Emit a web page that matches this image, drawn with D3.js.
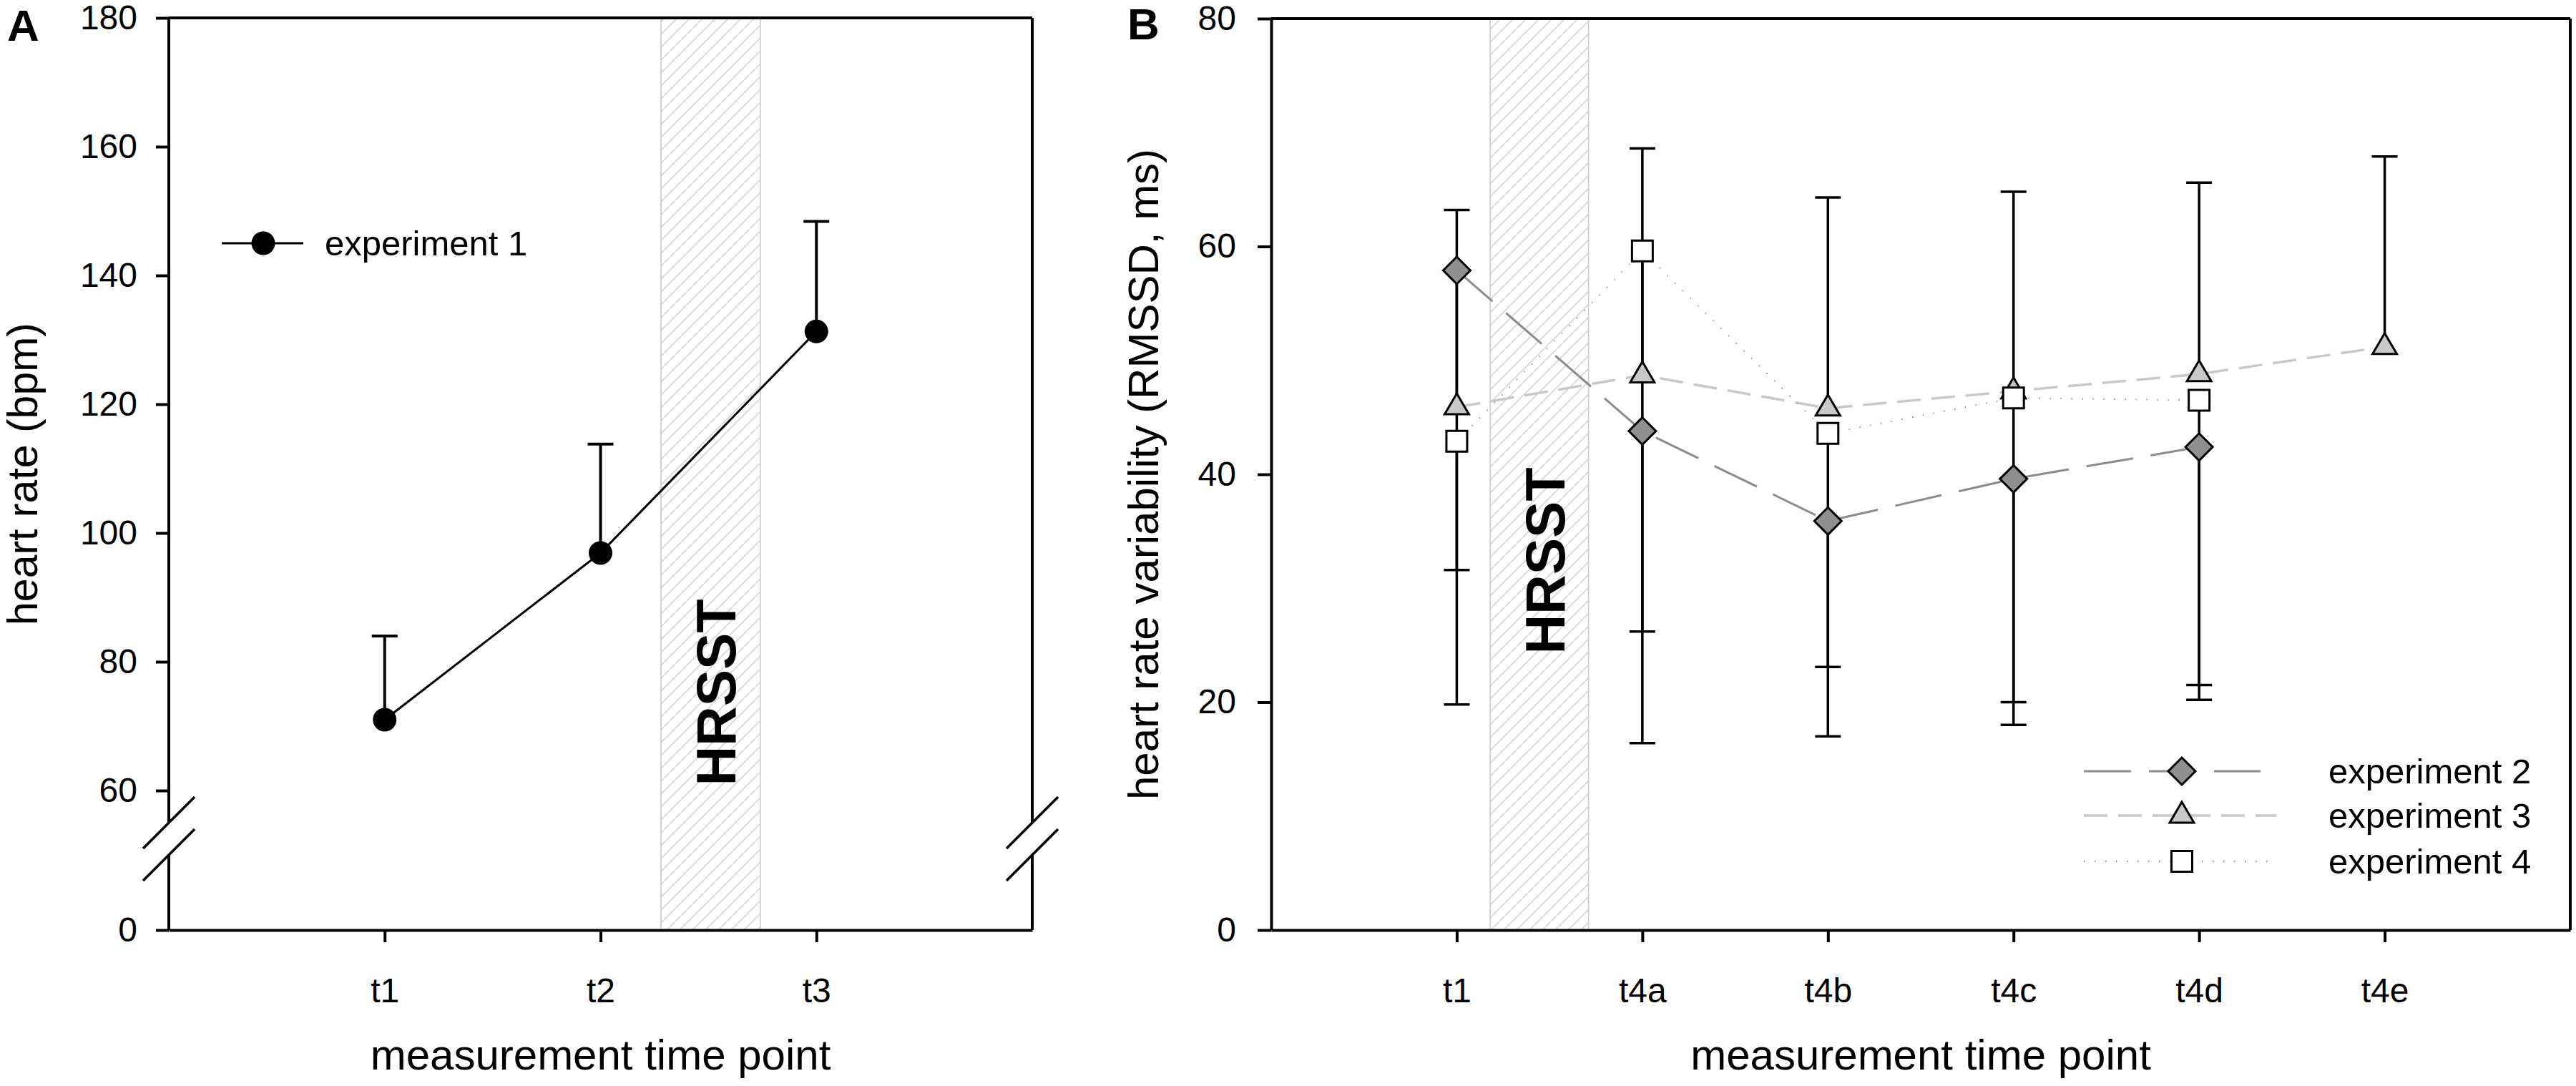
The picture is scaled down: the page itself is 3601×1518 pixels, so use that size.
<!DOCTYPE html>
<html>
<head>
<meta charset="utf-8">
<script src="https://cdn.jsdelivr.net/npm/d3@7"></script>
<style>
  body { margin: 0; background: #fff; }
  text { font-family: "Liberation Sans", Arial, sans-serif; fill: #000; }
</style>
</head>
<body>
<script>
// panel A: heart rate, experiment 1
var hrLabels = ["t1", "t2", "t3"];
var hrMean = [71.0, 96.9, 131.3];
var hrUpper = [84.0, 113.8, 148.4];
var hrTicks = [0, 60, 80, 100, 120, 140, 160, 180];
var hrStress = [2.28, 2.74];

// panel B: heart rate variability, experiments 2-4
var hrvLabels = ["t1", "t4a", "t4b", "t4c", "t4d", "t4e"];
var exp2Mean = [57.9, 43.8, 35.9, 39.6, 42.4];
var exp2Lower = [19.8, 16.4, 17.0, 18.0, 20.2];
var exp3Mean = [45.9, 48.7, 45.8, 47.3, 48.8, 51.2];
var exp3Upper = [63.2, 68.6, 64.3, 64.8, 65.6, 67.9];
var exp4Mean = [42.9, 59.6, 43.6, 46.7, 46.5];
var exp4Lower = [31.6, 26.2, 23.1, 20.0, 21.5];
var hrvTicks = [0, 20, 40, 60, 80];
var hrvStress = [1.18, 1.71];

var W = 3601, H = 1518;
var svg = d3.select("body").append("svg").attr("width", W).attr("height", H);

var defs = svg.append("defs");
defs.append("pattern")
    .attr("id", "hatch")
    .attr("patternUnits", "userSpaceOnUse")
    .attr("width", 18).attr("height", 18)
  .append("path")
    .attr("d", "M0,18L18,0M-4.5,4.5L4.5,-4.5M13.5,22.5L22.5,13.5")
    .attr("stroke", "#d6d6d6").attr("stroke-width", 1.6);

function diamond(r) { return "M0," + (-r) + "L" + r + ",0L0," + r + "L" + (-r) + ",0Z"; }
function triangle() { return "M0,-19L17,10L-17,10Z"; }
function square(s) { var h = s / 2; return "M" + (-h) + "," + (-h) + "h" + s + "v" + s + "h" + (-s) + "Z"; }

function breakMark(g, x, y) {
    g.append("line").attr("x1", x - 36).attr("y1", y + 36).attr("x2", x + 36).attr("y2", y - 36)
        .attr("stroke", "#000").attr("stroke-width", 3.5);
}

function styleAxis(g) {
    g.selectAll("text").style("font-size", "48px").style("font-family", "Liberation Sans, Arial, sans-serif");
    g.selectAll("line").attr("stroke-width", 4);
    g.selectAll("path.domain").attr("stroke-width", 4);
}

function stressBand(g, x, range, top, bottom, textX) {
    g.append("rect")
        .attr("x", x(range[0])).attr("y", top)
        .attr("width", x(range[1]) - x(range[0])).attr("height", bottom - top)
        .attr("fill", "url(#hatch)").attr("stroke", "#cbcbcb").attr("stroke-width", 1.6);
}

// ---------------- Panel A ----------------
(function () {
    var left = 236, right = 1443, top = 25, bottom = 1300;
    var x = d3.scaleLinear().domain([0, 4]).range([left, right]);
    var y = d3.scaleLinear().domain([0, 10, 55, 180]).range([bottom, 1195, 1150, top]);
    var g = svg.append("g");

    stressBand(g, x, hrStress, top, bottom);

    // frame
    g.append("line").attr("x1", left).attr("x2", right).attr("y1", top).attr("y2", top)
        .attr("stroke", "#000").attr("stroke-width", 4);
    [left, right].forEach(function (xx) {
        g.append("line").attr("x1", xx).attr("x2", xx).attr("y1", top).attr("y2", y(55))
            .attr("stroke", "#000").attr("stroke-width", 4);
        g.append("line").attr("x1", xx).attr("x2", xx).attr("y1", y(10)).attr("y2", bottom)
            .attr("stroke", "#000").attr("stroke-width", 4);
        breakMark(g, xx, y(55));
        breakMark(g, xx, y(10));
    });

    var ya = g.append("g").attr("transform", "translate(" + left + ",0)")
        .call(d3.axisLeft(y).tickValues(hrTicks).tickSize(18).tickPadding(26).tickFormat(d3.format("d")));
    ya.select("path.domain").remove();
    styleAxis(ya);

    var xa = g.append("g").attr("transform", "translate(0," + bottom + ")")
        .call(d3.axisBottom(x).tickValues([1, 2, 3]).tickSize(17).tickSizeOuter(0).tickPadding(50)
            .tickFormat(function (d) { return hrLabels[d - 1]; }));
    styleAxis(xa);

    g.append("text").attr("transform", "translate(1028,968) rotate(-90)")
        .attr("text-anchor", "middle").style("font-size", "77px").style("font-weight", "bold").text("HRSST");

    // error bars (upper only)
    hrMean.forEach(function (m, i) {
        var cx = x(i + 1);
        g.append("line").attr("x1", cx).attr("x2", cx).attr("y1", y(m)).attr("y2", y(hrUpper[i]))
            .attr("stroke", "#000").attr("stroke-width", 4);
        g.append("line").attr("x1", cx - 18).attr("x2", cx + 18).attr("y1", y(hrUpper[i])).attr("y2", y(hrUpper[i]))
            .attr("stroke", "#000").attr("stroke-width", 4);
    });

    var line = d3.line().x(function (d, i) { return x(i + 1); }).y(function (d) { return y(d); });
    g.append("path").datum(hrMean).attr("d", line).attr("fill", "none").attr("stroke", "#000").attr("stroke-width", 3);
    g.selectAll("circle.pt").data(hrMean).enter().append("circle")
        .attr("cx", function (d, i) { return x(i + 1); }).attr("cy", function (d) { return y(d); })
        .attr("r", 16.5).attr("fill", "#000");

    // legend
    g.append("line").attr("x1", 310).attr("x2", 424).attr("y1", 340).attr("y2", 340)
        .attr("stroke", "#000").attr("stroke-width", 3);
    g.append("circle").attr("cx", 368).attr("cy", 340).attr("r", 16.5).attr("fill", "#000");
    g.append("text").attr("x", 454).attr("y", 357).style("font-size", "49px").text("experiment 1");

    g.append("text").attr("x", (left + right) / 2).attr("y", 1495).attr("text-anchor", "middle")
        .style("font-size", "60px").text("measurement time point");
    g.append("text").attr("transform", "translate(52," + (top + bottom) / 2 + ") rotate(-90)")
        .attr("text-anchor", "middle").style("font-size", "59px").text("heart rate (bpm)");
    g.append("text").attr("x", 10).attr("y", 57).style("font-size", "62px").style("font-weight", "bold").text("A");
})();

// ---------------- Panel B ----------------
(function () {
    var left = 1777, right = 3593, top = 26, bottom = 1300;
    var x = d3.scaleLinear().domain([0, 7]).range([left, right]);
    var y = d3.scaleLinear().domain([0, 80]).range([bottom, top]);
    var g = svg.append("g");

    stressBand(g, x, hrvStress, top, bottom);

    g.append("line").attr("x1", left).attr("x2", right).attr("y1", top).attr("y2", top)
        .attr("stroke", "#000").attr("stroke-width", 4);
    g.append("line").attr("x1", right).attr("x2", right).attr("y1", top).attr("y2", bottom)
        .attr("stroke", "#000").attr("stroke-width", 4);

    var ya = g.append("g").attr("transform", "translate(" + left + ",0)")
        .call(d3.axisLeft(y).tickValues(hrvTicks).tickSize(19).tickSizeOuter(0).tickPadding(30));
    styleAxis(ya);
    var xa = g.append("g").attr("transform", "translate(0," + bottom + ")")
        .call(d3.axisBottom(x).tickValues([1, 2, 3, 4, 5, 6]).tickSize(17).tickSizeOuter(0).tickPadding(50)
            .tickFormat(function (d) { return hrvLabels[d - 1]; }));
    styleAxis(xa);

    g.append("text").attr("transform", "translate(2187,784) rotate(-90)")
        .attr("text-anchor", "middle").style("font-size", "77px").style("font-weight", "bold").text("HRSST");

    var series = [
        { mean: exp2Mean, err: exp2Lower, color: "#8c8c8c", dash: "66,25", width: 3, fill: "#8f8f8f", shape: function () { return diamond(19); } },
        { mean: exp3Mean, err: exp3Upper, color: "#c9c9c9", dash: "33,15", width: 3.5, fill: "#c8c8c8", shape: triangle },
        { mean: exp4Mean, err: exp4Lower, color: "#8a8a8a", dash: "1.5,13.5", width: 1.8, fill: "#fff", shape: function () { return square(29); } }
    ];

    // error bars
    series.forEach(function (s) {
        s.mean.forEach(function (m, i) {
            var cx = x(i + 1), e = s.err[i];
            g.append("line").attr("x1", cx).attr("x2", cx).attr("y1", y(m)).attr("y2", y(e))
                .attr("stroke", "#000").attr("stroke-width", 3.5);
            g.append("line").attr("x1", cx - 18).attr("x2", cx + 18).attr("y1", y(e)).attr("y2", y(e))
                .attr("stroke", "#000").attr("stroke-width", 3.5);
        });
    });

    var line = d3.line().x(function (d, i) { return x(i + 1); }).y(function (d) { return y(d); });
    series.forEach(function (s) {
        g.append("path").datum(s.mean).attr("d", line).attr("fill", "none")
            .attr("stroke", s.color).attr("stroke-width", s.width).attr("stroke-dasharray", s.dash);
    });
    series.forEach(function (s) {
        g.selectAll(null).data(s.mean).enter().append("path")
            .attr("transform", function (d, i) { return "translate(" + x(i + 1) + "," + y(d) + ")"; })
            .attr("d", s.shape).attr("fill", s.fill).attr("stroke", "#000").attr("stroke-width", 3);
    });

    // legend
    var names = ["experiment 2", "experiment 3", "experiment 4"];
    var rows = [1078, 1140, 1204];
    var ends = [3160, 3182, 3182];
    series.forEach(function (s, i) {
        g.append("line").attr("x1", 2913).attr("x2", ends[i]).attr("y1", rows[i]).attr("y2", rows[i])
            .attr("stroke", s.color).attr("stroke-width", s.width).attr("stroke-dasharray", s.dash);
        g.append("path").attr("transform", "translate(3050," + rows[i] + ")")
            .attr("d", s.shape).attr("fill", s.fill).attr("stroke", "#000").attr("stroke-width", 3);
        g.append("text").attr("x", 3255).attr("y", rows[i] + 17).style("font-size", "49px").text(names[i]);
    });

    g.append("text").attr("x", (left + right) / 2).attr("y", 1495).attr("text-anchor", "middle")
        .style("font-size", "60px").text("measurement time point");
    g.append("text").attr("transform", "translate(1619," + (top + bottom) / 2 + ") rotate(-90)")
        .attr("text-anchor", "middle").style("font-size", "60px").text("heart rate variability (RMSSD, ms)");
    g.append("text").attr("x", 1576).attr("y", 55).style("font-size", "62px").style("font-weight", "bold").text("B");
})();
</script>
</body>
</html>
